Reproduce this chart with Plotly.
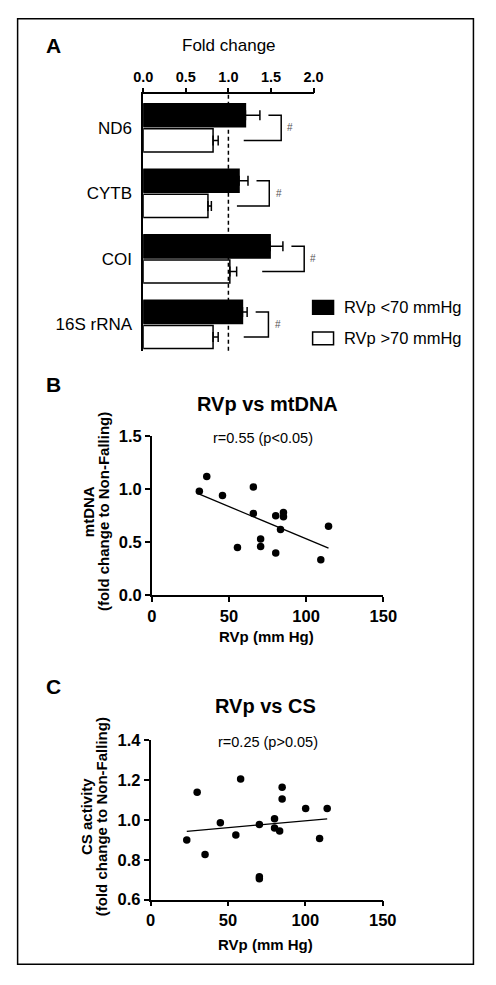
import numpy as np
import plotly.graph_objects as go

# ---------------- data ----------------
genes = ["ND6", "CYTB", "COI", "16S rRNA"]
low_mean = [1.20, 1.125, 1.49, 1.165]     # RVp <70 mmHg
low_err = [0.17, 0.105, 0.15, 0.055]
high_mean = [0.82, 0.76, 1.017, 0.82]     # RVp >70 mmHg
high_err = [0.06, 0.04, 0.08, 0.06]

b_rvp = [30.8, 35.6, 45.8, 65.8, 65.8, 55.5, 70.5, 70.5, 80.3, 80.3, 85.3, 85.3, 83.4, 109.5, 114.5]
b_mtdna = [0.98, 1.12, 0.94, 1.02, 0.77, 0.45, 0.53, 0.46, 0.40, 0.75, 0.78, 0.74, 0.62, 0.335, 0.65]

c_rvp = [23.4, 30.1, 35.2, 45.1, 55.1, 58.2, 70.3, 70.3, 70.3, 80.1, 80.1, 83.4, 85.0, 85.0, 100.2, 109.2, 114.1]
c_cs = [0.90, 1.139, 0.827, 0.986, 0.925, 1.206, 0.978, 0.715, 0.705, 1.006, 0.96, 0.945, 1.165, 1.106, 1.058, 0.907, 1.058]

a_ticks = [0.0, 0.5, 1.0, 1.5, 2.0]
b_yticks = [0.0, 0.5, 1.0, 1.5]
c_yticks = [0.6, 0.8, 1.0, 1.2, 1.4]
xticks_rvp = [0, 50, 100, 150]

# ---------------- styling ----------------
W, H = 496, 985
FONT = "Liberation Sans, Arial, sans-serif"


def px(x):
    return x / W


def py(y):
    return 1 - y / H


fig = go.Figure()
idx = list(range(len(genes)))
BARGAP = 0.234
slot = (1 - BARGAP) / 2

fig.add_trace(go.Bar(
    y=idx, x=low_mean, orientation="h", name="RVp <70 mmHg",
    marker=dict(color="black", line=dict(color="black", width=1.5)),
    error_x=dict(type="data", array=low_err, arrayminus=[0] * 4, symmetric=False,
                 color="black", thickness=1.5, width=5),
    xaxis="x", yaxis="y", showlegend=False))
fig.add_trace(go.Bar(
    y=idx, x=high_mean, orientation="h", name="RVp >70 mmHg",
    marker=dict(color="white", line=dict(color="black", width=1.5)),
    error_x=dict(type="data", array=high_err, arrayminus=[0] * 4, symmetric=False,
                 color="black", thickness=1.5, width=5),
    xaxis="x", yaxis="y", showlegend=False))

# scatter B
fig.add_trace(go.Scatter(x=b_rvp, y=b_mtdna, mode="markers",
                         marker=dict(color="black", size=7.5), xaxis="x2", yaxis="y2",
                         showlegend=False, cliponaxis=False))
kb = np.polyfit(b_rvp, b_mtdna, 1)
bx = [min(b_rvp), max(b_rvp)]
fig.add_trace(go.Scatter(x=bx, y=list(np.polyval(kb, bx)), mode="lines",
                         line=dict(color="black", width=1.3), xaxis="x2", yaxis="y2",
                         showlegend=False))

# scatter C
fig.add_trace(go.Scatter(x=c_rvp, y=c_cs, mode="markers",
                         marker=dict(color="black", size=7.5), xaxis="x3", yaxis="y3",
                         showlegend=False, cliponaxis=False))
kc = np.polyfit(c_rvp, c_cs, 1)
cx = [min(c_rvp), max(c_rvp)]
fig.add_trace(go.Scatter(x=cx, y=list(np.polyval(kc, cx)), mode="lines",
                         line=dict(color="black", width=1.3), xaxis="x3", yaxis="y3",
                         showlegend=False))

shapes = []
annotations = []

# dashed reference at fold change 1
shapes.append(dict(type="line", xref="x", yref="y domain", x0=1, x1=1, y0=0, y1=1,
                   line=dict(color="black", width=1.5, dash="4px,3px"), layer="above"))

# significance brackets
for i in idx:
    top_end = low_mean[i] + low_err[i]
    bot_end = high_mean[i] + high_err[i]
    vx = top_end + 0.25
    yt = i - slot / 2
    yb = i + slot / 2
    path = (f"M {top_end + 0.1},{yt} L {vx},{yt} L {vx},{yb} L {bot_end + 0.3},{yb}")
    shapes.append(dict(type="path", xref="x", yref="y", path=path,
                       line=dict(color="black", width=1.5)))
    annotations.append(dict(x=vx + 0.05, y=i, xref="x", yref="y", text="#",
                            showarrow=False, xanchor="left", yanchor="middle",
                            font=dict(size=10, color="#555555", family=FONT)))

# legend (custom)
shapes.append(dict(type="rect", xref="paper", yref="paper", x0=px(318), x1=px(340),
                   y0=py(311), y1=py(297), fillcolor="black", line=dict(color="black", width=1.5)))
shapes.append(dict(type="rect", xref="paper", yref="paper", x0=px(318), x1=px(340),
                   y0=py(342), y1=py(329), fillcolor="white", line=dict(color="black", width=1.5)))
annotations.append(dict(x=px(349), y=py(304), xref="paper", yref="paper", text="RVp <70 mmHg",
                        showarrow=False, xanchor="left", yanchor="middle",
                        font=dict(size=16.5, color="black", family=FONT)))
annotations.append(dict(x=px(349), y=py(335.5), xref="paper", yref="paper", text="RVp >70 mmHg",
                        showarrow=False, xanchor="left", yanchor="middle",
                        font=dict(size=16.5, color="black", family=FONT)))

# outer border
shapes.append(dict(type="rect", xref="paper", yref="paper", x0=px(8), x1=px(487),
                   y0=py(973), y1=py(10), line=dict(color="black", width=1.5)))


def txt(x, y, t, size, bold=False, angle=0, xanchor="center"):
    annotations.append(dict(x=px(x), y=py(y), xref="paper", yref="paper",
                            text=f"<b>{t}</b>" if bold else t, showarrow=False,
                            xanchor=xanchor, yanchor="middle", textangle=angle,
                            font=dict(size=size, color="black", family=FONT)))


# panel letters
txt(46, 37, "A", 21, bold=True)
txt(46, 382, "B", 21, bold=True)
txt(46, 690, "C", 21, bold=True)

# panel A title
txt(230, 37, "Fold change", 17)

# panel B texts
txt(271, 402, "RVp vs mtDNA", 20, bold=True)
txt(266, 437, "r=0.55 (p<0.05)", 14.5)
txt(270, 639, "RVp (mm Hg)", 15, bold=True)
txt(82.5, 512, "mtDNA", 15, bold=True, angle=-90)
txt(98, 512, "(fold change to Non-Falling)", 15, bold=True, angle=-90)

# panel C texts
txt(269, 710, "RVp vs CS", 20, bold=True)
txt(271, 747, "r=0.25 (p>0.05)", 14.5)
txt(269, 953, "RVp (mm Hg)", 15, bold=True)
txt(81, 823, "CS activity", 15, bold=True, angle=-90)
txt(97, 823, "(fold change to Non-Falling)", 15, bold=True, angle=-90)

axis_common = dict(showline=True, linecolor="black", linewidth=1.5, ticks="outside",
                   tickcolor="black", ticklen=5, tickwidth=1.5, showgrid=False,
                   zeroline=False, fixedrange=True)

fig.update_layout(
    width=W, height=H, margin=dict(l=0, r=0, t=0, b=0),
    paper_bgcolor="white", plot_bgcolor="white",
    barmode="group", bargap=BARGAP, bargroupgap=0.08,
    font=dict(family=FONT, color="black"),
    xaxis=dict(domain=[px(140), px(319)], anchor="y", side="top", range=[0, 2],
               tickvals=a_ticks, tickformat=".1f",
               tickfont=dict(size=14.5, family=FONT, weight="bold"), **axis_common),
    yaxis=dict(domain=[py(348), py(87)], anchor="x", range=[3.40, -0.51],
               tickvals=idx, ticktext=genes, showline=True, linecolor="black", linewidth=1.5,
               ticks="", showgrid=False, zeroline=False, ticklabelstandoff=6,
               tickfont=dict(size=17, family=FONT), fixedrange=True),
    xaxis2=dict(domain=[px(149), px(392.3)], anchor="y2", range=[0, 150],
                tickvals=xticks_rvp,
                tickfont=dict(size=16.5, family=FONT, weight="bold"), **axis_common),
    yaxis2=dict(domain=[py(597.3), py(435)], anchor="x2", range=[0, 1.5],
                tickvals=b_yticks, tickformat=".1f",
                tickfont=dict(size=16.5, family=FONT, weight="bold"), **axis_common),
    xaxis3=dict(domain=[px(147.7), px(391.7)], anchor="y3", range=[0, 150],
                tickvals=xticks_rvp,
                tickfont=dict(size=16.5, family=FONT, weight="bold"), **axis_common),
    yaxis3=dict(domain=[py(907.3), py(745)], anchor="x3", range=[0.6, 1.4],
                tickvals=c_yticks, tickformat=".1f",
                tickfont=dict(size=16.5, family=FONT, weight="bold"), **axis_common),
    shapes=shapes, annotations=annotations,
)

fig.write_html(
    "out.html",
    config={"displayModeBar": False},
    post_script="document.body.style.margin='0px';document.body.style.padding='0px';"
                "document.documentElement.style.overflow='hidden';",
)
